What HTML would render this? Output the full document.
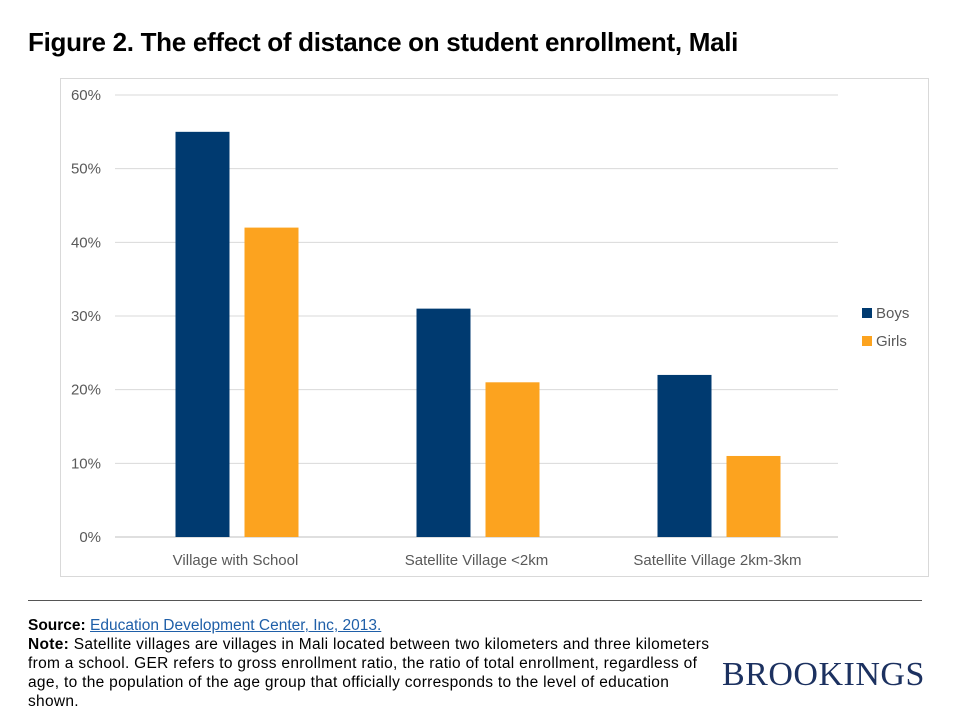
<!DOCTYPE html>
<html><head><meta charset="utf-8"><style>
body{margin:0;width:960px;height:720px;background:#fff;font-family:"Liberation Sans",sans-serif;position:relative;overflow:hidden}
.t{position:absolute;left:28px;top:27px;font-size:26px;font-weight:bold;color:#000;letter-spacing:-0.3px}
.box{position:absolute;left:60px;top:78px;width:869px;height:499px;border:1px solid #d9d9d9;box-sizing:border-box}
.rule{position:absolute;left:28px;top:600px;width:894px;border-top:1px solid #555}
.foot{position:absolute;left:28px;top:616px;width:720px;font-size:15.5px;line-height:19px;color:#000;white-space:nowrap}
.foot a{color:#1f5fa8;text-decoration:underline}
.n{letter-spacing:0.3px}
.brk{position:absolute;left:722px;top:656px;font-family:"Liberation Serif",serif;font-size:34px;color:#1c3160;letter-spacing:0.5px}
</style></head><body>
<div class="t">Figure 2. The effect of distance on student enrollment, Mali</div>
<div class="box"></div>
<svg id="c" width="960" height="720" style="position:absolute;left:0;top:0"></svg>
<div class="rule"></div>
<div class="foot"><b>Source:</b> <a>Education Development Center, Inc, 2013.</a><br><span class="n"><b>Note:</b> Satellite villages are villages in Mali located between two kilometers and three kilometers<br>from a school. GER refers to gross enrollment ratio, the ratio of total enrollment, regardless of<br>age, to the population of the age group that officially corresponds to the level of education<br>shown.</span></div>
<div class="brk">BROOKINGS</div>
<script>
const categories=["Village with School","Satellite Village <2km","Satellite Village 2km-3km"];
const boys=[55,31,22];
const girls=[42,21,11];
const ticks=[0,10,20,30,40,50,60];
const svg=document.getElementById('c');const NS='http://www.w3.org/2000/svg';
const x0=115,x1=838,y0=537,y1=95;
const y=v=>y0-(v/60)*(y0-y1);
const cw=(x1-x0)/categories.length;
function mk(t,a){const e=document.createElementNS(NS,t);for(const k in a)e.setAttribute(k,a[k]);svg.appendChild(e);return e;}
ticks.forEach(v=>{const l=mk('line',{x1:x0,x2:x1,y1:y(v),y2:y(v),stroke:v?'#d9d9d9':'#bfbfbf','stroke-width':1});

const t=mk('text',{x:101,y:y(v)+5,'text-anchor':'end','font-size':15,fill:'#595959'});t.textContent=v+'%';
});
categories.forEach((c,i)=>{const cx=x0+cw*(i+0.5);
const b=mk('rect',{x:cx-60,y:y(boys[i]),width:54,height:y0-y(boys[i]),fill:'#003a70'});

const g=mk('rect',{x:cx+9,y:y(girls[i]),width:54,height:y0-y(girls[i]),fill:'#fca31f'});

const t=mk('text',{x:cx,y:565,'text-anchor':'middle','font-size':15,fill:'#595959'});t.textContent=c;
});
[['Boys','#003a70',313],['Girls','#fca31f',341]].forEach(([n,col,yy])=>{
const r=mk('rect',{x:862,y:yy-5,width:10,height:10,fill:col});

const t=mk('text',{x:876,y:yy+5,'font-size':15,fill:'#595959'});t.textContent=n;
});
</script>
</body></html>
